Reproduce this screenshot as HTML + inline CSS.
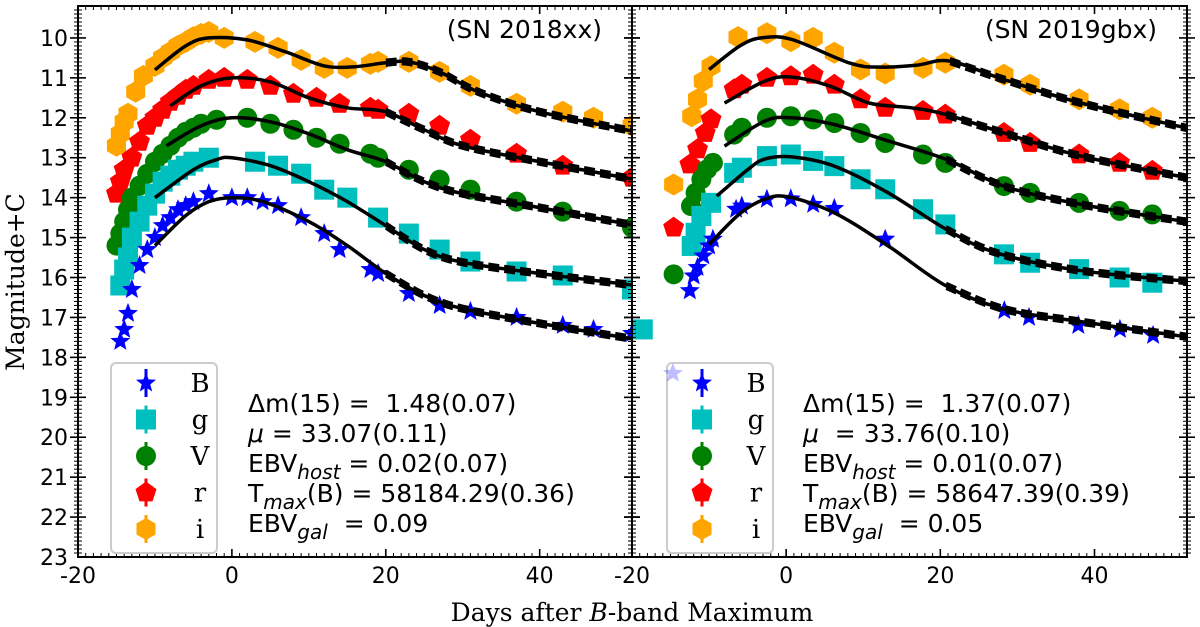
<!DOCTYPE html>
<html><head><meta charset="utf-8"><style>
html,body{margin:0;padding:0;background:#fff;}
svg{display:block;}
.tk{font-family:"DejaVu Sans","Liberation Sans",sans-serif;font-size:22px;fill:#000;}
.info{font-family:"DejaVu Sans","Liberation Sans",sans-serif;font-size:25px;fill:#000;}
.ser{font-family:"DejaVu Serif","Liberation Serif",serif;fill:#000;}
</style></head><body>
<svg id="chart" width="1200" height="627" viewBox="0 0 1200 627" xmlns="http://www.w3.org/2000/svg"></svg>
<script>
// ---- data: left panel (SN 2018xx) ----
const L_B_days=[-14.5,-14,-13.5,-13,-12,-11,-10,-9,-8,-7,-6,-5,-3,0,2,4,6,9,12,14,18,19,23,27,31,37,43,47,52];
const L_B_mags=[17.6,17.3,16.9,16.3,15.7,15.3,15.0,14.7,14.5,14.3,14.2,14.1,13.9,14.0,14.0,14.1,14.2,14.5,14.9,15.3,15.8,15.9,16.4,16.7,16.85,17.0,17.2,17.3,17.4];
const L_g_days=[-14.5,-14,-13.5,-13,-12,-11,-10,-9,-8,-7,-6,-5,-3,3,6,9,12,15,19,23,27,31,37,43,52];
const L_g_mags=[16.2,15.8,15.5,15.0,14.6,14.2,13.9,13.6,13.45,13.3,13.2,13.1,13.0,13.1,13.2,13.4,13.8,14.0,14.5,14.9,15.3,15.6,15.85,15.95,16.3];
const L_V_days=[-15,-14.5,-14,-13.5,-13,-12,-11,-10,-9,-8,-7,-6,-5,-4,-2,2,5,8,11,14,18,19,23,27,31,37,43,52];
const L_V_mags=[15.2,14.9,14.6,14.3,14.0,13.7,13.4,13.1,12.9,12.7,12.5,12.35,12.25,12.15,12.05,12.0,12.15,12.3,12.5,12.65,12.9,13.0,13.3,13.55,13.8,14.1,14.35,14.75];
const L_r_days=[-15,-14.5,-14,-13,-12,-11,-10,-9,-8,-7,-6,-5,-3,-1,2,5,8,11,14,18,19,23,27,31,37,43,52];
const L_r_mags=[13.9,13.6,13.3,13.0,12.6,12.2,12.0,11.8,11.6,11.45,11.3,11.2,11.05,11.0,11.05,11.2,11.4,11.5,11.65,11.75,11.8,11.9,12.2,12.55,12.9,13.2,13.5];
const L_i_days=[-15,-14.5,-14,-13.5,-12.5,-11.5,-10,-9,-8,-7,-6,-5,-4,-3,-1,3,6,9,12,15,18,19,23,27,31,37,43,47,52];
const L_i_mags=[12.7,12.4,12.1,11.9,11.35,10.95,10.7,10.5,10.35,10.2,10.1,9.98,9.9,9.85,10.0,10.1,10.25,10.55,10.75,10.75,10.65,10.6,10.6,10.85,11.2,11.65,11.85,12.0,12.2];
// fits (left)
const L_fitB_days=[-10,-6,-3,0,4,10,15,20,25,30,40,52.5];
const L_fitB_mags=[15.2,14.45,14.1,14.0,14.1,14.6,15.2,15.9,16.45,16.78,17.15,17.55];
const L_fitg_days=[-10,-5,-2,0,5,10,15,20,25,30,40,52.5];
const L_fitg_mags=[14.0,13.3,13.05,13.0,13.2,13.6,14.1,14.7,15.3,15.62,15.9,16.2];
const L_fitV_days=[-8.5,-4,0,5,10,15,20,25,30,40,52.5];
const L_fitV_mags=[12.7,12.2,12.0,12.1,12.4,12.8,13.1,13.6,13.9,14.25,14.7];
const L_fitr_days=[-8,-4,0,5,10,15,20,25,30,40,52.5];
const L_fitr_mags=[11.7,11.2,11.0,11.1,11.5,11.75,11.85,12.3,12.7,13.1,13.55];
const L_fiti_days=[-10,-6,-3,2,7,12,16,20,23,27,32,40,52.5];
const L_fiti_mags=[10.8,10.2,10.0,10.05,10.35,10.7,10.72,10.62,10.6,10.85,11.35,11.85,12.35];
// ---- data: right panel (SN 2019gbx) ----
const R_B_days=[-12.5,-12,-11.5,-10.75,-10,-9.5,-6.5,-5.75,-2.5,0.6,3.5,6.25,12.85,28.3,31.5,37.9,43.3,47.6];
const R_B_mags=[16.33,15.96,15.75,15.46,15.21,15.04,14.29,14.21,14.04,14.03,14.17,14.27,15.04,16.83,17.0,17.2,17.3,17.45];
const R_g_days=[-18.6,-12.25,-11.75,-11,-9.75,-6.75,-5.75,-2.5,0.6,3.5,6.25,9.65,12.85,17.75,20.65,28.25,31.65,38,43.25,47.5];
const R_g_mags=[17.3,15.21,14.88,14.46,14.13,13.38,13.25,12.96,12.92,13.08,13.21,13.54,13.79,14.29,14.67,15.42,15.63,15.79,16.0,16.13];
const R_V_days=[-14.6,-12.35,-11.75,-11,-10.25,-9.5,-6.75,-5.75,-2.5,0.6,3.5,6.25,9.65,12.85,17.75,20.65,28.25,31.65,38,43.25,47.5];
const R_V_mags=[15.92,14.21,13.88,13.54,13.29,13.13,12.42,12.25,12.0,11.96,12.04,12.13,12.38,12.63,12.92,13.13,13.71,13.88,14.13,14.33,14.42];
const R_r_days=[-14.6,-12.5,-11.5,-10.5,-9.75,-6.75,-5.75,-2.5,0.6,3.5,6.25,9.65,12.85,17.75,20.65,28.25,31.65,38,43.25,47.5];
const R_r_mags=[14.75,13.17,12.79,12.38,12.04,11.29,11.17,11.0,10.96,10.92,11.17,11.54,11.75,11.83,11.92,12.38,12.63,12.92,13.13,13.33];
const R_i_days=[-14.6,-12.25,-11.5,-10.75,-9.75,-6.25,-2.5,0.6,3.5,6.25,9.65,12.85,17.75,20.65,28.25,31.65,38,43.25,47.5];
const R_i_mags=[13.67,11.96,11.54,11.08,10.71,9.98,9.88,10.08,10.0,10.37,10.79,10.89,10.75,10.62,10.92,11.17,11.54,11.79,12.0];
const R_fitB_days=[-10,-6,-2.75,0.25,6.25,13.25,20.75,28.25,38,52.5];
const R_fitB_mags=[15.17,14.4,14.04,13.98,14.38,15.21,16.21,16.79,17.1,17.5];
const R_fitg_days=[-9,-5,-2.75,0.75,6.25,13.25,20.75,27.25,38.25,52.5];
const R_fitg_mags=[13.96,13.3,13.03,12.98,13.21,13.88,14.79,15.38,15.83,16.1];
const R_fitV_days=[-8,-2.75,0.75,6.25,13.25,20.75,28.25,38.25,52.5];
const R_fitV_mags=[12.71,12.08,12.0,12.17,12.58,13.04,13.71,14.17,14.62];
const R_fitr_days=[-8,-2.75,0.75,5.75,10.75,16.25,20.75,28.25,38.25,52.5];
const R_fitr_mags=[11.63,11.08,10.98,11.21,11.63,11.75,11.92,12.38,12.96,13.52];
const R_fiti_days=[-10,-6,-3.25,0.75,8.25,12.25,17,21.25,28.25,38.25,52.5];
const R_fiti_mags=[10.79,10.2,10.0,10.04,10.63,10.73,10.68,10.58,11.04,11.63,12.28];
// faded outlier
const R_fadeB_days=[-14.7];
const R_fadeB_mags=[18.4];
const xTicks=[-20,0,20,40];
const yTicks=[10,11,12,13,14,15,16,17,18,19,20,21,22,23];

const NS='http://www.w3.org/2000/svg';
const svg=document.getElementById('chart');
function mk(tag,attrs,parent){const e=document.createElementNS(NS,tag);for(const k in attrs)e.setAttribute(k,attrs[k]);(parent||svg).appendChild(e);return e;}
const Y0=6,Y1=557,M0=9.2,M1=23;
function ys(m){return Y0+(m-M0)/(M1-M0)*(Y1-Y0);}
const X_MIN=-20,X_MAX=52;
const panels=[{x0:78,x1:632,name:'left'},{x0:632,x1:1187,name:'right'}];
function xsF(p){return d=>p.x0+(d-X_MIN)/(X_MAX-X_MIN)*(p.x1-p.x0);}
const COL={B:'#0000ff',g:'#00bfbf',V:'#008000',r:'#ff0000',i:'#ffa500'};

function marker(band,cx,cy,g,op){
  let e;const c=COL[band];
  if(band==='V'){e=mk('circle',{cx:cx,cy:cy,r:10,fill:c},g);}
  else if(band==='g'){e=mk('rect',{x:cx-10,y:cy-10,width:20,height:20,fill:c},g);}
  else{
    let n,r,rot,pts=[];
    if(band==='B'){for(let k=0;k<10;k++){const a=-Math.PI/2+k*Math.PI/5;const rr=k%2?4.5:10.5;pts.push((cx+rr*Math.cos(a)).toFixed(1)+','+(cy+rr*Math.sin(a)).toFixed(1));}}
    else{n=band==='r'?5:6;r=11;rot=band==='r'?-Math.PI/2:0;
      for(let k=0;k<n;k++){const a=rot+k*2*Math.PI/n+(band==='i'?Math.PI/6:0);pts.push((cx+r*Math.cos(a)).toFixed(1)+','+(cy+r*Math.sin(a)).toFixed(1));}}
    e=mk('polygon',{points:pts.join(' '),fill:c},g);
  }
  if(op)e.setAttribute('opacity',op);
  return e;
}
function smooth(pts){
  let d='M'+pts[0][0].toFixed(1)+','+pts[0][1].toFixed(1);
  for(let i=0;i<pts.length-1;i++){
    const p0=pts[i-1]||pts[i],p1=pts[i],p2=pts[i+1],p3=pts[i+2]||p2;
    const c1=[p1[0]+(p2[0]-p0[0])/6,p1[1]+(p2[1]-p0[1])/6],c2=[p2[0]-(p3[0]-p1[0])/6,p2[1]-(p3[1]-p1[1])/6];
    d+=' C'+c1[0].toFixed(1)+','+c1[1].toFixed(1)+' '+c2[0].toFixed(1)+','+c2[1].toFixed(1)+' '+p2[0].toFixed(1)+','+p2[1].toFixed(1);
  }
  return d;
}
const SETS={
 left:{data:{B:[L_B_days,L_B_mags],g:[L_g_days,L_g_mags],V:[L_V_days,L_V_mags],r:[L_r_days,L_r_mags],i:[L_i_days,L_i_mags]},
       fit:{B:[L_fitB_days,L_fitB_mags],g:[L_fitg_days,L_fitg_mags],V:[L_fitV_days,L_fitV_mags],r:[L_fitr_days,L_fitr_mags],i:[L_fiti_days,L_fiti_mags]}},
 right:{data:{B:[R_B_days,R_B_mags],g:[R_g_days,R_g_mags],V:[R_V_days,R_V_mags],r:[R_r_days,R_r_mags],i:[R_i_days,R_i_mags]},
       fit:{B:[R_fitB_days,R_fitB_mags],g:[R_fitg_days,R_fitg_mags],V:[R_fitV_days,R_fitV_mags],r:[R_fitr_days,R_fitr_mags],i:[R_fiti_days,R_fiti_mags]}}
};
const INFO={
 left:{title:'(SN 2018xx)',dm:'1.48(0.07)',mu:'= 33.07(0.11)',host:'0.02(0.07)',tmax:'58184.29(0.36)',gal:'0.09'},
 right:{title:'(SN 2019gbx)',dm:'1.37(0.07)',mu:' = 33.76(0.10)',host:'0.01(0.07)',tmax:'58647.39(0.39)',gal:'0.05'}
};
mk('defs',{}).innerHTML='<clipPath id="clipL"><rect x="78" y="6" width="554" height="551"/></clipPath><clipPath id="clipR"><rect x="632" y="6" width="555" height="551"/></clipPath>';

panels.forEach((p,pi)=>{
  const xs=xsF(p);const S=SETS[p.name];const inf=INFO[p.name];
  const pg=mk('g',{'clip-path':pi?'url(#clipR)':'url(#clipL)'});
  
  
  ['i','r','V','g','B'].forEach(b=>{
    const [dd,mm]=S.data[b];
    const g=mk('g',{},pg);
    
    
    dd.forEach((d,k)=>{const m=marker(b,xs(d),ys(mm[k]),g);
      
      });
  });
  ['B','g','V','r','i'].forEach(b=>{
    const [fd,fm]=S.fit[b];
    const pts=fd.map((d,k)=>[xs(d),ys(fm[k])]);
    const path=smooth(pts);
    const l=mk('path',{d:path,fill:'none',stroke:'#000','stroke-width':3.5},pg);
    
    
    const late=fd.map((d,k)=>[d,fm[k]]).filter(q=>q[0]>=20);
    [-0.06,0.06].forEach(off=>{
      const lp=smooth(late.map(q=>[xs(q[0]),ys(q[1]+off)]));
      const dl=mk('path',{d:lp,fill:'none',stroke:'#000','stroke-width':3.5,'stroke-dasharray':'11,5'},pg);
      
      
    });
  });
  // frame
  const fr=mk('rect',{x:p.x0,y:Y0,width:p.x1-p.x0,height:Y1-Y0,fill:'none',stroke:'#000','stroke-width':2});
  
  
  const tg=mk('g',{stroke:'#000','stroke-width':1.2});
  
  
  for(let d=X_MIN+1;d<X_MAX;d++){
    const x=xs(d);const major=xTicks.includes(d);const L=major?8:4;
    mk('line',{x1:x,y1:Y1,x2:x,y2:Y1-L,'stroke-width':major?1.6:1},tg);
    mk('line',{x1:x,y1:Y0,x2:x,y2:Y0+L,'stroke-width':major?1.6:1},tg);
  }
  for(let m=Math.round(M0*10)/10+0.1;m<M1-0.01;m+=0.1){
    const mr=Math.round(m*10)/10;const major=Math.abs(mr-Math.round(mr))<0.01;const L=major?8:4;const y=ys(mr);
    [p.x0,p.x1].forEach(xx=>{
      mk('line',{x1:xx-L,y1:y,x2:xx+L,y2:y,'stroke-width':major?1.6:1},tg);
    });
  }
  xTicks.forEach(t=>{
    const tx=mk('text',{x:xs(t),y:583,'text-anchor':'middle',class:'tk'});tx.textContent=t;
    
    
  });
  const ti=mk('text',{x:p.x1-30,y:38,'text-anchor':'end',class:'info'});ti.textContent=inf.title;
  
  
  // legend
  const lx=p.x0+(pi?35:33);
  const lg=mk('g',{});
  
  
  mk('rect',{x:lx,y:363,width:106,height:190,rx:5,fill:'#fff',stroke:'#cccccc','stroke-width':2},lg);
  ['B','g','V','r','i'].forEach((b,k)=>{
    const cy=383+k*36.5,cx=lx+35;
    const eg=mk('g',{},lg);
    
    
    mk('line',{x1:cx,y1:cy-14,x2:cx,y2:cy+14,stroke:COL[b],'stroke-width':3},eg);
    marker(b,cx,cy,eg);
    const t=mk('text',{x:lx+89,y:cy+9,'text-anchor':'middle',class:'ser','font-size':26},eg);t.textContent=b;
  });
  if(p.name==='right'){R_fadeB_days.forEach((d,k)=>{const m=marker('B',xs(d),ys(R_fadeB_mags[k]),svg,0.25);
    
    });}
  // info text
  const ix=p.x0+(pi?171:170);
  const ig=mk('g',{class:'info'});
  
  
  const lines=[
    '<tspan>Δm(15) =  '+inf.dm+'</tspan>',
    '<tspan font-style="italic">μ</tspan><tspan> '+inf.mu+'</tspan>',
    '<tspan>EBV</tspan><tspan font-style="italic" font-size="20" dy="7">host</tspan><tspan dy="-7"> = '+inf.host+'</tspan>',
    '<tspan>T</tspan><tspan font-style="italic" font-size="20" dy="7">max</tspan><tspan dy="-7">(B) = '+inf.tmax+'</tspan>',
    '<tspan>EBV</tspan><tspan font-style="italic" font-size="20" dy="7">gal</tspan><tspan dy="-7">  = '+inf.gal+'</tspan>'
  ];
  lines.forEach((h,k)=>{const t=mk('text',{x:ix,y:412+k*30},ig);t.setAttribute('style','white-space:pre');t.innerHTML=h;});
});
yTicks.forEach(t=>{
  const tx=mk('text',{x:68,y:ys(t)+8,'text-anchor':'end',class:'tk'});tx.textContent=t;
  
  
});
const xt=mk('text',{x:632,y:621,'text-anchor':'middle',class:'ser','font-size':25});
xt.innerHTML='Days after <tspan font-style="italic">B</tspan>-band Maximum';


const yt=mk('text',{x:0,y:0,'text-anchor':'middle',class:'ser','font-size':25,transform:'translate(24,282) rotate(-90)'});
yt.textContent='Magnitude+C';


</script>
</body></html>
